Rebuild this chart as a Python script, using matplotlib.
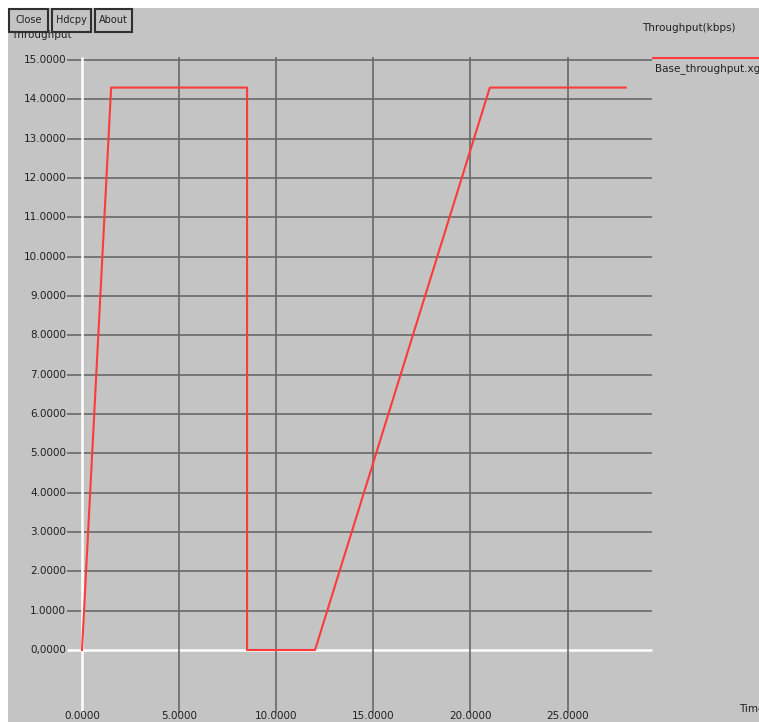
import matplotlib
matplotlib.use("Agg")
import matplotlib.pyplot as plt
from matplotlib.patches import Rectangle

# Data
time_s = [0.0, 1.5, 8.5, 8.5, 12.0, 21.0, 28.0]
throughput = [0.0, 14.3, 14.3, 0.0, 0.0, 14.3, 14.3]
y_ticks = list(range(0, 16))
y_tick_labels = [f"{v},0000" if v == 0 else f"{v}.0000" for v in y_ticks]
x_ticks = [0, 5, 10, 15, 20, 25]
x_tick_labels = ["0.0000", "5.0000", "10.0000", "15.0000", "20.0000", "25.0000"]
series_name = "Base_throughput.xg"
title = "Throughput(kbps)"
y_label = "Throughput"
x_label = "Time"
buttons = ["Close", "Hdcpy", "About"]

W, H = 759, 722
fig = plt.figure(figsize=(W / 100, H / 100), dpi=100)
fig.patch.set_facecolor("white")
BG = "#c4c4c4"
GRID = "#686868"
RED = "#ff3a3a"

# grey window area
fig.patches.append(Rectangle((8 / W, 0), 1 - 8 / W, 1 - 8 / H, transform=fig.transFigure,
                             facecolor=BG, edgecolor="none", zorder=-10))

# pixel mapping: x=0 -> px 82, 19.42 px/unit ; y=0 -> py 650, 39.33 px/unit
x0px, xs = 82.0, 19.42
y0px, ys = 650.0, 39.33
ax = fig.add_axes([0, 0, 1, 1])
ax.set_zorder(1)
ax.set_xlim(-x0px / xs, (W - x0px) / xs)
ax.set_ylim((y0px - H) / ys, y0px / ys)
ax.axis("off")
ax.patch.set_alpha(0)

def px2x(p):
    return (p - x0px) / xs

def py2y(p):
    return (y0px - p) / ys

xl, xr = px2x(67), px2x(652)
yb, yt = py2y(713), py2y(57)

# horizontal grid
for v in y_ticks:
    c = "white" if v == 0 else GRID
    ax.hlines(v, xl, xr, colors=c, lw=1.2 if v else 1.8, zorder=1)
# vertical grid
for v in x_ticks:
    c = "white" if v == 0 else GRID
    ax.vlines(v, yb, yt, colors=c, lw=1.2 if v else 1.8, zorder=1)

# tick labels
for v, lab in zip(y_ticks, y_tick_labels):
    ax.text(px2x(66), v, lab, ha="right", va="center", fontsize=7.5,
            color="#202020", family="DejaVu Sans")
for v, lab in zip(x_ticks, x_tick_labels):
    ax.text(v, py2y(711), lab, ha="center", va="top", fontsize=7.5,
            color="#202020", family="DejaVu Sans", clip_on=False)

# data line
ax.plot(time_s, throughput, color=RED, lw=1.5, zorder=3)

# legend
ax.plot([px2x(653), px2x(760)], [py2y(58), py2y(58)], color=RED, lw=1.5, zorder=3, clip_on=False)
ax.text(px2x(655), py2y(69), series_name, ha="left", va="center", fontsize=7.5, color="#202020")

# title and axis labels
ax.text(px2x(689), py2y(28), title, ha="center", va="center", fontsize=7.5, color="#202020")
ax.text(px2x(739), py2y(709), x_label, ha="left", va="center", fontsize=7.5, color="#202020")
ax.text(px2x(11), py2y(35), y_label, ha="left", va="center", fontsize=7.5, color="#202020", zorder=2)

# buttons
bx = [(9, 48), (52, 91), (95, 132)]
for (a, b), name in zip(bx, buttons):
    ax.add_patch(Rectangle((px2x(a), py2y(32)), (b - a) / xs, 23 / ys,
                           facecolor=BG, edgecolor="#303030", lw=1.5, zorder=5, clip_on=False))
    ax.text(px2x((a + b) / 2), py2y(20), name, ha="center", va="center", fontsize=7,
            color="#202020", zorder=6)

fig.savefig("out.png", dpi=100, facecolor=fig.get_facecolor())
